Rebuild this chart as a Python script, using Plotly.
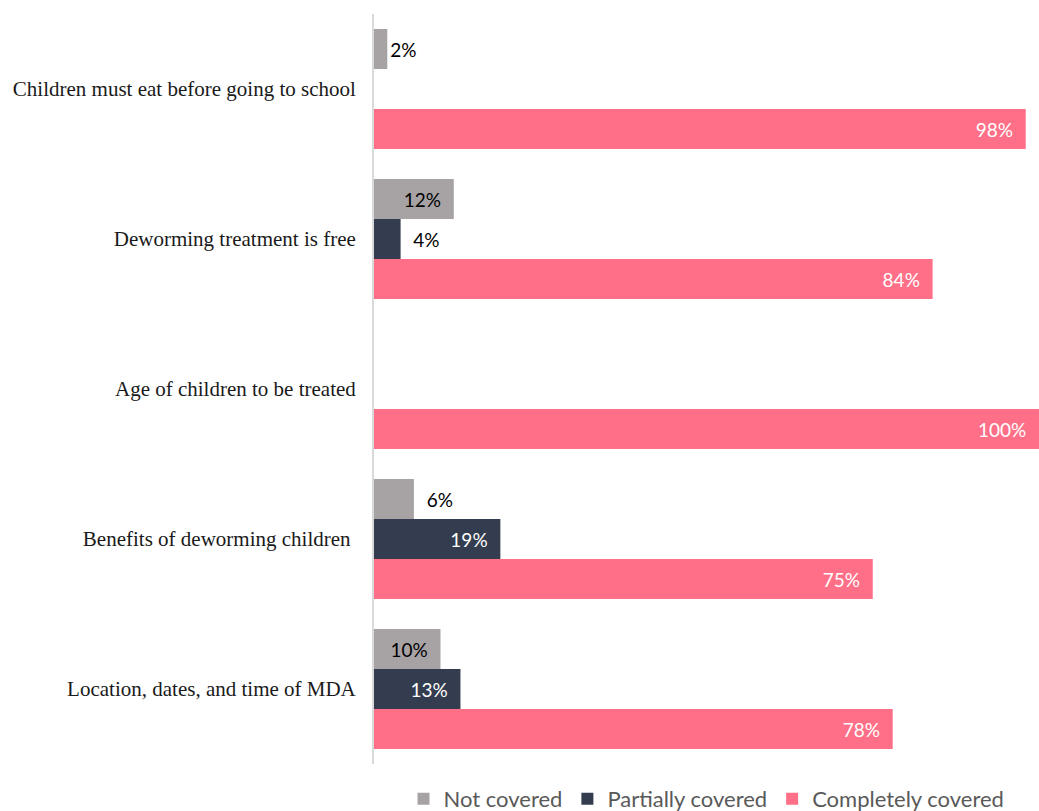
import plotly.graph_objects as go

categories = [
    "Children must eat before going to school",
    "Deworming treatment is free",
    "Age of children to be treated",
    "Benefits of deworming children ",
    "Location, dates, and time of MDA",
]
series_names = ["Not covered", "Partially covered", "Completely covered"]
not_covered = [2, 12, 0, 6, 10]
partially_covered = [0, 4, 0, 19, 13]
completely_covered = [98, 84, 100, 75, 78]

colors = ["#A7A3A4", "#333D4F", "#FF6F87"]
inside_text_colors = ["#000000", "#FFFFFF", "#FFFFFF"]
outside_cutoff = 8  # values below this get their label outside the bar

NB = "\u00a0"


def labels(values):
    out, pos = [], []
    for v in values:
        if v <= 0:
            out.append("")
            pos.append("none")
        elif v < outside_cutoff:
            out.append((NB * 2 if v > 3 else "") + f"{v}%")
            pos.append("outside")
        else:
            out.append(f"{v}%" + NB * 2)
            pos.append("inside")
    return out, pos


fig = go.Figure()
for name, vals, col, tcol in zip(
    series_names,
    [not_covered, partially_covered, completely_covered],
    colors,
    inside_text_colors,
):
    txt, pos = labels(vals)
    fig.add_trace(
        go.Bar(
            name=name,
            y=categories,
            x=vals,
            orientation="h",
            marker=dict(color=col, line=dict(width=0)),
            text=txt,
            textposition=pos,
            insidetextanchor="end",
            insidetextfont=dict(color=tcol, size=19, family="Lato"),
            outsidetextfont=dict(color="#000000", size=19, family="Lato"),
            cliponaxis=False,
            constraintext="none",
            hoverinfo="skip",
        )
    )

fig.update_layout(
    width=1039,
    height=811,
    margin=dict(l=374, r=0, t=14, b=47, autoexpand=False),
    paper_bgcolor="white",
    plot_bgcolor="white",
    barmode="group",
    bargap=0.2,
    bargroupgap=0,
    showlegend=True,
    legend=dict(
        orientation="h",
        x=0.5,
        xanchor="center",
        y=-0.0467,
        yanchor="middle",
        font=dict(family="Lato", size=22, color="#595959"),
        itemwidth=30,
    ),
    xaxis=dict(
        range=[0, 100],
        showgrid=False,
        zeroline=False,
        showticklabels=False,
        showline=False,
        fixedrange=True,
    ),
    yaxis=dict(
        autorange="reversed",
        showgrid=False,
        zeroline=False,
        showline=True,
        linecolor="#D9D9D9",
        linewidth=2,
        ticks="",
        ticklabelstandoff=12,
        tickfont=dict(family="Liberation Serif", size=21, color="#1A1A1A"),
    ),
)

fig.write_html("out.html")
